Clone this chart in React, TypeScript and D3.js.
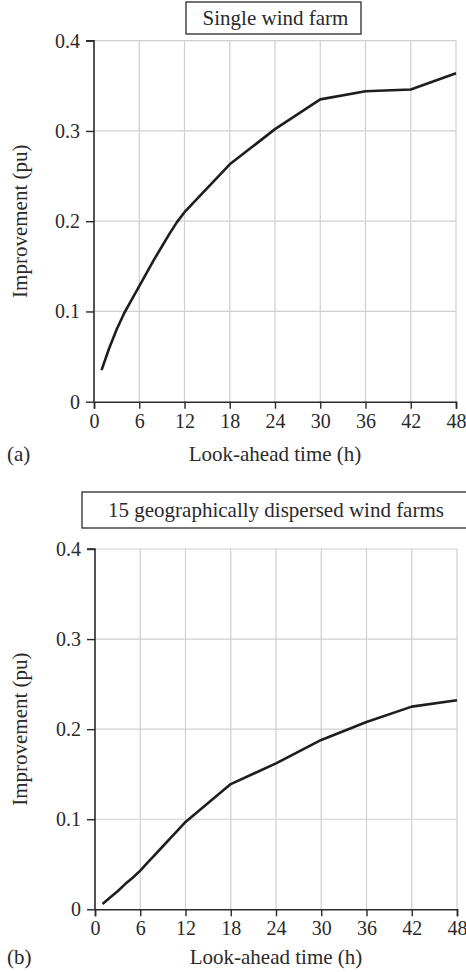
import React, { useEffect, useRef } from 'react'
import * as d3 from 'd3'

// look-ahead hours shared by both panels
const hours = [1, 2, 3, 4, 5, 6, 7, 8, 9, 10, 11, 12, 18, 24, 30, 36, 42, 48]

// (a) single wind farm
const singleFarm = [0.035, 0.059, 0.08, 0.098, 0.113, 0.128, 0.143, 0.158, 0.172, 0.186, 0.199, 0.21, 0.263, 0.302, 0.335, 0.344, 0.346, 0.364]

// (b) 15 dispersed farms
const dispersedFarms = [0.006, 0.013, 0.02, 0.028, 0.035, 0.043, 0.052, 0.061, 0.07, 0.079, 0.088, 0.097, 0.139, 0.162, 0.188, 0.208, 0.225, 0.232]

const xTicks = [0, 6, 12, 18, 24, 30, 36, 42, 48]
const yTicks = [0, 0.1, 0.2, 0.3, 0.4]

const FONT = '"Liberation Serif", "Times New Roman", Tinos, "DejaVu Serif", "Noto Serif", serif'
const INK = '#2a2a2a'

interface PanelOpts {
  values: number[]
  title: string
  box: { x0: number; x1: number; y0: number; y1: number }
  letter: string
  left: number
  right: number
  top: number
  bottom: number
  labelGap: number
}

function drawPanel(svg: d3.Selection<SVGSVGElement, unknown, null, undefined>, p: PanelOpts) {
  const x = d3.scaleLinear().domain([0, 48]).range([p.left, p.right])
  const y = d3.scaleLinear().domain([0, 0.4]).range([p.bottom, p.top])
  const g = svg.append('g')

  // title box
  g.append('rect')
    .attr('x', p.box.x0).attr('y', p.box.y0)
    .attr('width', p.box.x1 - p.box.x0).attr('height', p.box.y1 - p.box.y0)
    .attr('fill', 'none').attr('stroke', INK).attr('stroke-width', 1.3)
  g.append('text')
    .attr('x', (p.box.x0 + Math.min(p.box.x1, 466)) / 2 + 2)
    .attr('y', (p.box.y0 + p.box.y1) / 2 + 7)
    .attr('text-anchor', 'middle')
    .attr('font-family', FONT)
    .style('font-size', '21px').attr('fill', INK)
    .text(p.title)

  // grid
  g.selectAll('.vg').data(xTicks.slice(1)).join('line')
    .attr('x1', d => x(d)).attr('x2', d => x(d))
    .attr('y1', p.top).attr('y2', p.bottom)
    .attr('stroke', '#cfcfcf').attr('stroke-width', 1.2)
  g.selectAll('.hg').data(yTicks.slice(1)).join('line')
    .attr('x1', p.left).attr('x2', p.right)
    .attr('y1', d => y(d)).attr('y2', d => y(d))
    .attr('stroke', '#cfcfcf').attr('stroke-width', 1.2)

  // axes
  const xAxis = d3.axisBottom(x).tickValues(xTicks).tickSize(7).tickPadding(5).tickFormat(d => String(d))
  const yAxis = d3.axisLeft(y).tickValues(yTicks).tickSize(8).tickPadding(6)
    .tickFormat(d => (d === 0 ? '0' : d3.format('.1f')(d as number)))

  const xa = g.append('g').attr('transform', `translate(0,${p.bottom})`).call(xAxis)
  const ya = g.append('g').attr('transform', `translate(${p.left},0)`).call(yAxis)
  for (const a of [xa, ya]) {
    a.attr('font-family', FONT).attr('font-size', 20)
    a.select('.domain').attr('stroke', INK).attr('stroke-width', 1.6)
    a.selectAll('.tick line').attr('stroke', INK).attr('stroke-width', 1.4)
    a.selectAll('.tick text').attr('fill', INK)
  }
  ya.select('.domain').attr('d', `M${-8},${p.top}H0V${p.bottom}`)

  // curve
  const line = d3.line<number>()
    .x((_, i) => x(hours[i]))
    .y(d => y(d))
  g.append('path')
    .datum(p.values)
    .attr('d', line)
    .attr('fill', 'none')
    .attr('stroke', '#1e1e1e')
    .attr('stroke-width', 2.6)
    .attr('stroke-linejoin', 'round')

  // labels
  g.append('text')
    .attr('x', (p.left + p.right) / 2).attr('y', p.bottom + p.labelGap)
    .attr('text-anchor', 'middle').attr('font-family', FONT)
    .style('font-size', '21px').attr('fill', INK)
    .text('Look-ahead time (h)')
  g.append('text')
    .attr('transform', `translate(27,${(p.top + p.bottom) / 2}) rotate(-90)`)
    .attr('text-anchor', 'middle').attr('font-family', FONT)
    .style('font-size', '21px').attr('fill', INK)
    .text('Improvement (pu)')
  g.append('text')
    .attr('x', 7).attr('y', p.bottom + p.labelGap)
    .attr('font-family', FONT)
    .style('font-size', '21px').attr('fill', INK)
    .text(p.letter)
}

export default function App() {
  const svgRef = useRef<SVGSVGElement>(null)

  useEffect(() => {
    if (!svgRef.current) return
    const svg = d3.select(svgRef.current)
    svg.selectAll('*').remove()

    drawPanel(svg, {
      values: singleFarm,
      title: 'Single wind farm',
      box: { x0: 186, x1: 361, y0: 2, y1: 34 },
      letter: '(a)',
      left: 94, right: 456, top: 40.7, bottom: 401.7,
      labelGap: 59,
    })
    drawPanel(svg, {
      values: dispersedFarms,
      title: '15 geographically dispersed wind farms',
      box: { x0: 82, x1: 472, y0: 492, y1: 528 },
      letter: '(b)',
      left: 95, right: 457, top: 549, bottom: 909.3,
      labelGap: 55,
    })
  }, [])

  return (
    <svg
      ref={svgRef}
      width={466}
      height={972}
      style={{ position: 'absolute', left: 0, top: 0, background: '#fff' }}
    />
  )
}
